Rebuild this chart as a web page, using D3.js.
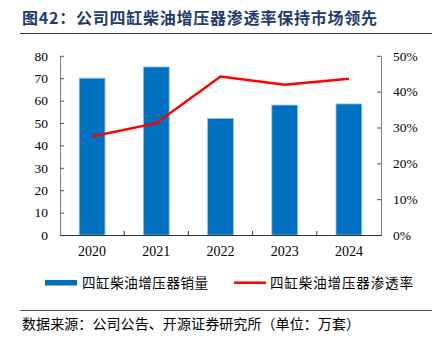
<!DOCTYPE html>
<html><head><meta charset="utf-8">
<script src="https://cdn.jsdelivr.net/npm/d3@7"></script>
<style>body{margin:0;background:#fff}svg{display:block}</style>
</head><body>
<script>
const years = ["2020","2021","2022","2023","2024"];
const sales = [70, 75, 52, 58, 58.5];
const penetration = [0.275, 0.312, 0.442, 0.419, 0.436];
const leftTicks = [0,10,20,30,40,50,60,70,80];
const rightTicks = [0,0.1,0.2,0.3,0.4,0.5];
const titleText = "图42：公司四缸柴油增压器渗透率保持市场领先";
const legendBar = "四缸柴油增压器销量";
const legendLine = "四缸柴油增压器渗透率";
const sourceText = "数据来源：公司公告、开源证券研究所（单位：万套）";

const W = 433, H = 339;
const svg = d3.select("body").append("svg").attr("width", W).attr("height", H);
const serif = "'Liberation Serif','DejaVu Serif',serif";
const cjk = "'Noto Sans CJK SC','Noto Sans',sans-serif";

// title
svg.append("text").attr("x", 22).attr("y", 24)
  .attr("font-family", cjk).attr("font-weight", "bold").attr("font-size", 16)
  .attr("fill", "#1F3B6E").attr("textLength", 355).attr("lengthAdjust","spacing")
  .text(titleText);
svg.append("line").attr("x1", 20).attr("x2", 432).attr("y1", 33.5).attr("y2", 33.5)
  .attr("stroke", "#333").attr("stroke-width", 1);

const x0 = 60, x1 = 381, yTop = 55.8, yBot = 235;
const x = d3.scaleBand().domain(years).range([x0, x1]).paddingInner(0.6).paddingOuter(0.3);
const xb = d3.scaleBand().domain(years).range([x0, x1]);
const yL = d3.scaleLinear().domain([0, 80]).range([yBot, yTop]);
const yR = d3.scaleLinear().domain([0, 0.5]).range([yBot, yTop]);

// bars
svg.append("g").selectAll("rect").data(years).join("rect")
  .attr("x", d => xb(d) + xb.bandwidth()/2 - 12.85)
  .attr("width", 25.7)
  .attr("y", (d,i) => yL(sales[i]))
  .attr("height", (d,i) => yBot - yL(sales[i]))
  .attr("fill", "#0070C0").attr("stroke", "#8FB8E0").attr("stroke-width", 0.8);

// left axis
const gL = svg.append("g").attr("transform", `translate(${x0},0)`)
  .call(d3.axisLeft(yL).tickValues(leftTicks).tickSizeInner(-4).tickSizeOuter(0).tickPadding(12));
gL.select(".domain").attr("stroke", "#808080");
gL.selectAll(".tick line").attr("stroke", "#555");
gL.selectAll("text").attr("font-family", serif).attr("font-size", 13.5).attr("fill", "#000");

// right axis
const gR = svg.append("g").attr("transform", `translate(${x1},0)`)
  .call(d3.axisRight(yR).tickValues(rightTicks).tickFormat(d3.format(".0%")).tickSizeInner(-4).tickSizeOuter(0).tickPadding(12));
gR.select(".domain").attr("stroke", "#808080");
gR.selectAll(".tick line").attr("stroke", "#555");
gR.selectAll("text").attr("font-family", serif).attr("font-size", 13.5).attr("fill", "#000");

// bottom axis
const gB = svg.append("g").attr("transform", `translate(0,${yBot})`)
  .call(d3.axisBottom(xb).tickSize(0).tickPadding(11));
gB.select(".domain").attr("stroke", "#333").attr("stroke-width", 1.2);
gB.selectAll("text").attr("font-family", serif).attr("font-size", 14).attr("fill", "#000");
// inner separator ticks
svg.append("g").selectAll("line").data(years.slice(1)).join("line")
  .attr("x1", d => xb(d)).attr("x2", d => xb(d))
  .attr("y1", yBot).attr("y2", yBot - 4).attr("stroke", "#333");

// line
const line = d3.line().x((d,i) => xb(years[i]) + xb.bandwidth()/2).y(d => yR(d));
svg.append("path").datum(penetration).attr("d", line)
  .attr("fill", "none").attr("stroke", "#FF0000").attr("stroke-width", 2.5);

// legend
svg.append("rect").attr("x", 45).attr("y", 280).attr("width", 32).attr("height", 5.5).attr("fill", "#0070C0");
svg.append("text").attr("x", 82).attr("y", 287.5).attr("font-family", cjk).attr("font-size", 13.5)
  .attr("textLength", 126).attr("lengthAdjust","spacing").text(legendBar);
svg.append("line").attr("x1", 234).attr("x2", 266).attr("y1", 282.7).attr("y2", 282.7)
  .attr("stroke", "#FF0000").attr("stroke-width", 2.5);
svg.append("text").attr("x", 270).attr("y", 287.5).attr("font-family", cjk).attr("font-size", 13.5)
  .attr("textLength", 143).attr("lengthAdjust","spacing").text(legendLine);

// source
svg.append("line").attr("x1", 20).attr("x2", 432).attr("y1", 310.5).attr("y2", 310.5)
  .attr("stroke", "#555").attr("stroke-width", 1);
svg.append("text").attr("x", 22).attr("y", 328.5).attr("font-family", cjk).attr("font-size", 14)
  .attr("textLength", 338).attr("lengthAdjust","spacing").text(sourceText);
</script>
</body></html>
